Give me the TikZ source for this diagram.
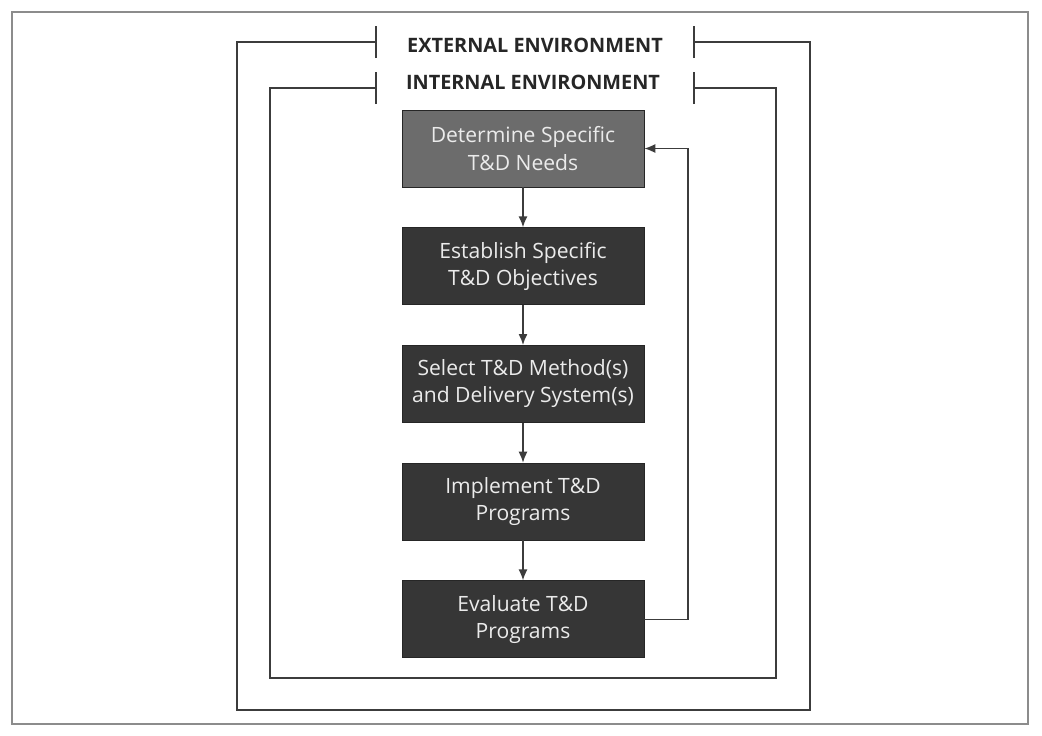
\documentclass[tikz,border=0pt]{standalone}
\usepackage{fontspec}
\setmainfont{Open Sans}
\usetikzlibrary{positioning,arrows.meta}
\definecolor{stepdark}{HTML}{363636}
\definecolor{steplight}{HTML}{6C6C6C}
\definecolor{linegray}{HTML}{3C3C3C}

\begin{document}
\begin{tikzpicture}[
  x=0.02cm,y=-0.02cm,
  stepbox/.style={draw=black!85,fill=stepdark,text=white!92!black,minimum width=48.4mm,
    minimum height=15.4mm,align=center,font=\fontsize{12}{15.5}\selectfont},
  envlabel/.style={font=\fontsize{11.3}{13}\selectfont\bfseries,text=black!85},
  envline/.style={draw=linegray,line width=0.9pt},
  flow/.style={draw=linegray,line width=0.8pt,-{Latex[length=2.2mm,width=1.8mm]}},
  node distance=8mm
]
  \useasboundingbox (0,0) rectangle (1042,735);
  % page frame
  \draw[black!45,line width=1pt] (12,12) rectangle (1028,724);

  \node[envlabel] (extlabel) at (535,45) {EXTERNAL ENVIRONMENT};
  \node[envlabel] (intlabel) at (533,82) {INTERNAL ENVIRONMENT};

  % environment frames
  \coordinate (extL) at (376,42);
  \coordinate (extR) at (694,42);
  \coordinate (intL) at (376,88);
  \coordinate (intR) at (694,88);
  \draw[envline] (extL) -- (237,42) -- (237,710) -- (810,710) -- (810,42) -- (extR);
  \draw[envline] (intL) -- (270,88) -- (270,678) -- (776,678) -- (776,88) -- (intR);
  \foreach \t in {extL,extR,intL,intR}
    \draw[envline] ([yshift=-3.2mm]\t) -- ([yshift=3.2mm]\t);

  % steps
  \node[stepbox,fill=steplight] (needs) at (523,148.5) {Determine Specific\\T\&D Needs};
  \node[stepbox,below=of needs] (objectives) {Establish Specific\\T\&D Objectives};
  \node[stepbox,below=of objectives] (methods) {Select T\&D Method(s)\\and Delivery System(s)};
  \node[stepbox,below=of methods] (implement) {Implement T\&D\\Programs};
  \node[stepbox,below=of implement] (evaluate) {Evaluate T\&D\\Programs};

  \draw[flow] (needs) -- (objectives);
  \draw[flow] (objectives) -- (methods);
  \draw[flow] (methods) -- (implement);
  \draw[flow] (implement) -- (evaluate);

  % feedback loop
  \coordinate (loop) at (688,0);
  \draw[flow] (evaluate.east) -- (evaluate.east -| loop) |- (needs.east);
\end{tikzpicture}
\end{document}
